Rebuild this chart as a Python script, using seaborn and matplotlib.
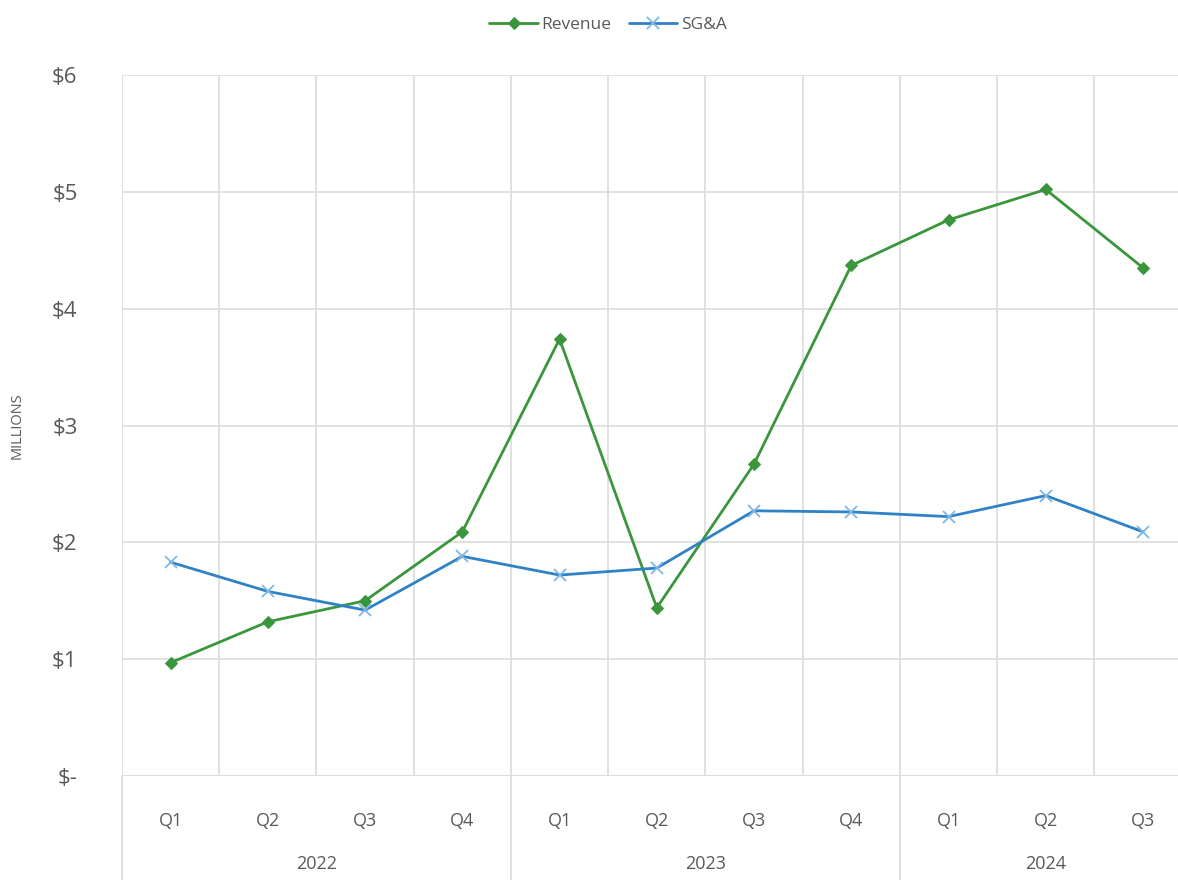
import matplotlib
matplotlib.use("Agg")
import matplotlib.pyplot as plt
import matplotlib.transforms as mtransforms
import seaborn as sns

quarters = ["Q1", "Q2", "Q3", "Q4", "Q1", "Q2", "Q3", "Q4", "Q1", "Q2", "Q3"]
years = ["2022", "2023", "2024"]
year_quarter_counts = [4, 4, 3]
revenue = [0.97, 1.32, 1.50, 2.09, 3.74, 1.44, 2.67, 4.37, 4.76, 5.02, 4.35]
sga = [1.83, 1.58, 1.42, 1.88, 1.72, 1.78, 2.27, 2.26, 2.22, 2.40, 2.09]
yticks = [0, 1, 2, 3, 4, 5, 6]
ytick_labels = ["$-", "$1", "$2", "$3", "$4", "$5", "$6"]

sns.set_theme(style="white")
plt.rcParams["font.family"] = ["Open Sans", "DejaVu Sans"]

green = "#3a963c"
blue = "#2f82c6"
gray_text = "#595959"
grid_c = "#dcdcdc"

fig = plt.figure(figsize=(11.78, 8.8), dpi=100)
W, H = 1178, 880
left, right, top, bottom = 122, 1191.6, 75, 776
ax = fig.add_axes([left / W, 1 - bottom / H, (right - left) / W, (bottom - top) / H])

idx = list(range(len(quarters)))

sns.lineplot(x=idx, y=revenue, color=green, marker="D", markersize=6,
             markeredgecolor=green, linewidth=2.0, label="Revenue", ax=ax, zorder=3)
sns.lineplot(x=idx, y=sga, color=blue, marker="x", markersize=8,
             markeredgecolor="#7fb6e3", markeredgewidth=1.3, linewidth=2.0,
             label="SG&A", ax=ax, zorder=3)

ax.set_xlim(-0.5, len(quarters) - 0.5)
ax.set_ylim(0, 6)
ax.set_yticks(yticks)
ax.set_yticklabels(ytick_labels, fontsize=16, color=gray_text)
ax.set_xticks(idx)
ax.set_xticklabels(quarters, fontsize=13, color=gray_text)
ax.tick_params(axis="x", length=0, pad=26)
ax.tick_params(axis="y", length=0, pad=32)
ax.set_xlabel("")
ax.set_ylabel("MILLIONS", fontsize=10.5, color=gray_text, labelpad=20)

# grid
for y in yticks[1:]:
    ax.axhline(y, color=grid_c, lw=1.2, zorder=1)
for b in range(len(quarters) + 1):
    ax.axvline(b - 0.5, color=grid_c, lw=1.2, zorder=1)
for s in ax.spines.values():
    s.set_visible(False)
ax.axhline(0, color=grid_c, lw=1.4, zorder=1)

trans = mtransforms.blended_transform_factory(ax.transData, ax.transAxes)
ext = -(H - bottom) / (bottom - top)
start = 0
bounds = [-0.5]
for yr, n in zip(years, year_quarter_counts):
    center = start + (n - 1) / 2
    ax.text(center, -88 / (bottom - top), yr, transform=trans, ha="center",
            va="center", fontsize=13, color=gray_text)
    start += n
    bounds.append(start - 0.5)
for bnd in bounds:
    ax.plot([bnd, bnd], [0, ext], transform=trans, color=grid_c, lw=1.2, clip_on=False, zorder=1)

leg = ax.legend(loc="upper center", bbox_to_anchor=((608 - left) / (right - left), 1 + 74 / (bottom - top)),
                ncol=2, frameon=False, fontsize=12.5, handlelength=2.8, columnspacing=1.0,
                handletextpad=0.2, labelcolor=gray_text)

fig.savefig("out.png", dpi=100)
